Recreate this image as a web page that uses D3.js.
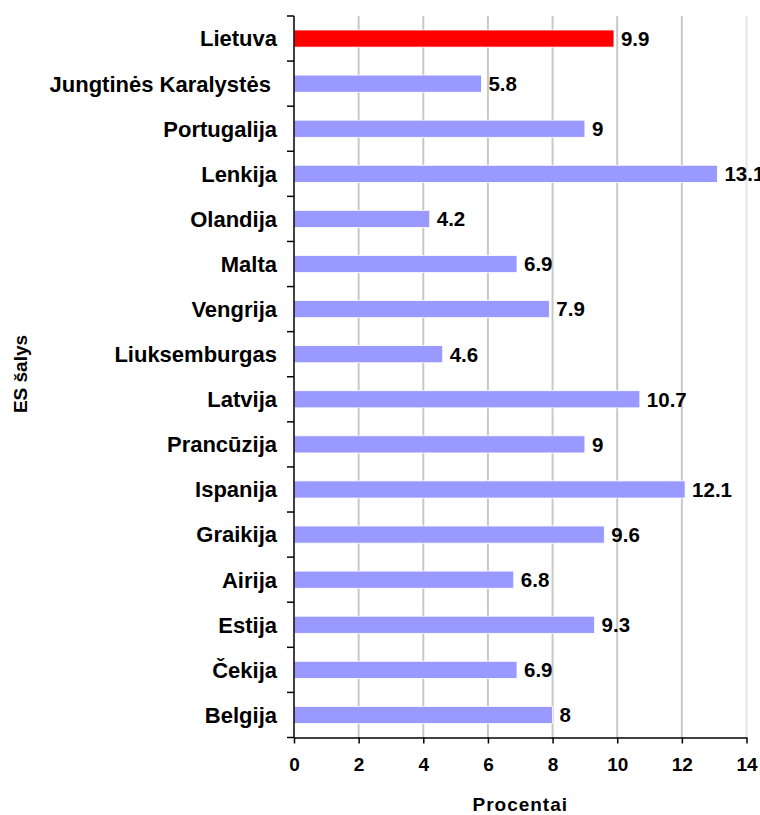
<!DOCTYPE html>
<html>
<head>
<meta charset="utf-8">
<script src="https://cdn.jsdelivr.net/npm/d3@7"></script>
<style>
  body { margin: 0; background: #fff; overflow: hidden; }
  svg { font-family: "Liberation Sans", Arial, sans-serif; font-weight: bold; }
</style>
</head>
<body>
<div id="wrapper"></div>
<script>
// countries, top to bottom as in the picture
const countries = ["Lietuva", "Jungtinės Karalystės ", "Portugalija", "Lenkija", "Olandija", "Malta",
  "Vengrija", "Liuksemburgas", "Latvija", "Prancūzija", "Ispanija", "Graikija", "Airija",
  "Estija", "Čekija", "Belgija"];
const values = [9.9, 5.8, 9, 13.1, 4.2, 6.9, 7.9, 4.6, 10.7, 9, 12.1, 9.6, 6.8, 9.3, 6.9, 8];
const xTicks = [0, 2, 4, 6, 8, 10, 12, 14];
const highlight = "Lietuva";

const width = 760, height = 815;
const margin = { top: 16, right: 14, bottom: 78, left: 294 };

const svg = d3.select("#wrapper").append("svg")
  .attr("width", width)
  .attr("height", height)
  .style("display", "block");

const x = d3.scaleLinear().domain([0, 14]).range([margin.left, 746.5]);
const y = d3.scaleBand().domain(countries).range([margin.top, 737.5]).paddingInner(0.62).paddingOuter(0.31);

// grid lines
svg.append("g")
  .selectAll("line")
  .data(xTicks.slice(1))
  .join("line")
  .attr("x1", d => x(d)).attr("x2", d => x(d))
  .attr("y1", margin.top).attr("y2", 737.5)
  .attr("stroke", d => d === 14 ? "#e4e4e4" : "#c8c8c8")
  .attr("stroke-width", 2);

// bars
svg.append("g")
  .selectAll("rect")
  .data(countries)
  .join("rect")
  .attr("x", x(0))
  .attr("y", d => y(d))
  .attr("width", (d, i) => x(values[i]) - x(0))
  .attr("height", y.bandwidth())
  .attr("fill", d => d === highlight ? "#ff0000" : "#9999ff")
  .attr("stroke", "#ffffff")
  .attr("stroke-width", 0.8);

// value labels
svg.append("g")
  .selectAll("text")
  .data(countries)
  .join("text")
  .attr("x", (d, i) => x(values[i]) + 7)
  .attr("y", d => y(d) + y.bandwidth() / 2)
  .attr("dy", "0.36em")
  .attr("font-size", 20.5)
  .attr("fill", "#000")
  .text((d, i) => values[i]);

// y axis: line + ticks between categories
const yAxis = svg.append("g");
yAxis.append("line")
  .attr("x1", x(0)).attr("x2", x(0))
  .attr("y1", margin.top).attr("y2", 737.5)
  .attr("stroke", "#000").attr("stroke-width", 1.5);
const bounds = d3.range(countries.length + 1).map(i => margin.top + i * (737.5 - margin.top) / countries.length);
yAxis.selectAll("line.tick")
  .data(bounds)
  .join("line")
  .attr("class", "tick")
  .attr("x1", x(0) - 7).attr("x2", x(0))
  .attr("y1", d => d).attr("y2", d => d)
  .attr("stroke", "#000").attr("stroke-width", 1.5);
yAxis.selectAll("text")
  .data(countries)
  .join("text")
  .attr("x", 277)
  .attr("y", d => y(d) + y.bandwidth() / 2)
  .attr("dy", "0.36em")
  .attr("text-anchor", "end")
  .attr("font-size", 22)
  .style("white-space", "pre")
  .text(d => d);

// x axis
const xAxis = svg.append("g")
  .attr("transform", "translate(0,737.5)")
  .call(d3.axisBottom(x).tickValues(xTicks).tickSize(6).tickSizeOuter(0).tickPadding(14).tickFormat(d3.format("d")));
xAxis.select(".domain").attr("stroke", "#000").attr("stroke-width", 1.5);
xAxis.selectAll(".tick line").attr("stroke", "#000").attr("stroke-width", 1.5);
xAxis.selectAll(".tick text")
  .attr("font-family", "Liberation Sans, Arial, sans-serif")
  .attr("font-weight", "bold")
  .attr("font-size", 19)
  .attr("fill", "#000");

// axis titles
svg.append("text")
  .attr("x", x(7))
  .attr("y", 811)
  .attr("text-anchor", "middle")
  .attr("font-size", 19)
  .attr("letter-spacing", "1px")
  .text("Procentai");

svg.append("text")
  .attr("transform", "translate(27,374) rotate(-90)")
  .attr("text-anchor", "middle")
  .attr("font-size", 19)
  .text("ES šalys");
</script>
</body>
</html>
